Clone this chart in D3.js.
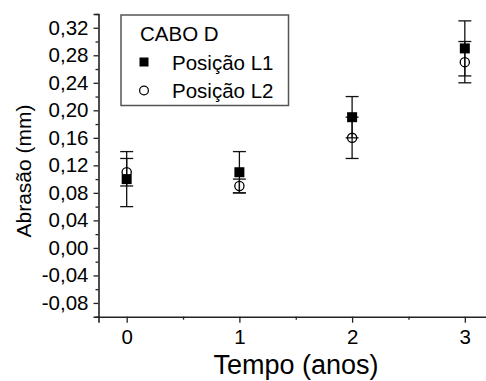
<!DOCTYPE html>
<html>
<head>
<meta charset="utf-8">
<script src="https://d3js.org/d3.v7.min.js"></script>
<style>
  body { margin: 0; background: #fff; }
  text { font-family: "Liberation Sans", Arial, sans-serif; fill: #000; }
</style>
</head>
<body>
<div id="chartDiv"></div>
<script>
  // data
  var anos = [0, 1, 2, 3];
  var L1 = [0.10, 0.11, 0.19, 0.29];
  var L1err = [0.04, 0.03, 0.03, 0.04];
  var L2 = [0.11, 0.09, 0.16, 0.27];
  var L2err = [0.02, 0.01, 0.03, 0.03];
  var yTicks = [-0.08, -0.04, 0, 0.04, 0.08, 0.12, 0.16, 0.20, 0.24, 0.28, 0.32];
  var xTicks = [0, 1, 2, 3];
  var legendTitle = "CABO D";
  var seriesNames = ["Posição L1", "Posição L2"];

  var W = 486, H = 381;
  var svg = d3.select("#chartDiv").append("svg")
    .attr("width", W).attr("height", H);

  var x = d3.scaleLinear().domain([-0.25, 3.25]).range([98.5, 493]);
  var y = d3.scaleLinear().domain([-0.10, 0.34]).range([316.7, 14]);

  var fmt = function(d) { return d3.format(".2f")(d).replace(".", ",").replace("−", "-"); };

  // y axis
  var yAxis = d3.axisLeft(y).tickValues(yTicks).tickSize(5).tickPadding(5).tickFormat(fmt);
  svg.append("g").attr("transform", "translate(" + x.range()[0] + ",0)").call(yAxis);
  var yMinor = d3.range(-0.10, 0.341, 0.04).map(function(d) { return +d.toFixed(2); });
  svg.append("g").attr("transform", "translate(" + x.range()[0] + ",0)")
    .call(d3.axisLeft(y).tickValues(yMinor).tickSize(3).tickFormat(""))
    .select(".domain").remove();

  // x axis
  var xAxis = d3.axisBottom(x).tickValues(xTicks).tickSize(6).tickPadding(7).tickFormat(d3.format("d"));
  svg.append("g").attr("transform", "translate(0," + y.range()[0] + ")").call(xAxis);
  svg.append("g").attr("transform", "translate(0," + y.range()[0] + ")")
    .call(d3.axisBottom(x).tickValues([0.5, 1.5, 2.5]).tickSize(3).tickFormat(""))
    .select(".domain").remove();

  svg.selectAll(".domain").attr("stroke", "#222").attr("stroke-width", 1.6);
  svg.selectAll(".tick line").attr("stroke", "#222").attr("stroke-width", 1.3);
  svg.selectAll(".tick text").style("font-size", "20.5px").attr("fill", "#000")
    .style("font-family", "'Liberation Sans', Arial, sans-serif");

  // axis titles
  svg.append("text")
    .attr("x", 296).attr("y", 374)
    .attr("text-anchor", "middle")
    .style("font-size", "27px")
    .text("Tempo (anos)");
  svg.append("text")
    .attr("transform", "translate(31,171) rotate(-90)")
    .attr("text-anchor", "middle")
    .style("font-size", "21px")
    .text("Abrasão (mm)");

  // error bars
  function errorBars(vals, errs) {
    var g = svg.append("g");
    anos.forEach(function(a, i) {
      var cx = x(a), lo = y(vals[i] - errs[i]), hi = y(vals[i] + errs[i]);
      g.append("line").attr("x1", cx).attr("x2", cx).attr("y1", lo).attr("y2", hi)
        .attr("stroke", "#111").attr("stroke-width", 1.3);
      [lo, hi].forEach(function(yy) {
        g.append("line").attr("x1", cx - 6.5).attr("x2", cx + 6.5).attr("y1", yy).attr("y2", yy)
          .attr("stroke", "#111").attr("stroke-width", 1.3);
      });
    });
  }
  errorBars(L2, L2err);
  errorBars(L1, L1err);

  // markers
  svg.append("g").selectAll("circle").data(L2).enter().append("circle")
    .attr("cx", function(d, i) { return x(anos[i]); })
    .attr("cy", function(d) { return y(d); })
    .attr("r", 4.6)
    .attr("fill", "none").attr("stroke", "#000").attr("stroke-width", 1.3);
  svg.append("g").selectAll("rect").data(L1).enter().append("rect")
    .attr("x", function(d, i) { return x(anos[i]) - 5; })
    .attr("y", function(d) { return y(d) - 5; })
    .attr("width", 10).attr("height", 10)
    .attr("fill", "#000");

  // legend
  var lg = svg.append("g");
  lg.append("rect").attr("x", 121).attr("y", 15).attr("width", 167.5).attr("height", 90.5)
    .attr("fill", "#fff").attr("stroke", "#555").attr("stroke-width", 1.5);
  lg.append("text").attr("x", 140).attr("y", 41).style("font-size", "20.5px").text(legendTitle);
  lg.append("rect").attr("x", 139.5).attr("y", 57.5).attr("width", 9).attr("height", 9).attr("fill", "#000");
  lg.append("circle").attr("cx", 144).attr("cy", 90.5).attr("r", 4.4)
    .attr("fill", "none").attr("stroke", "#000").attr("stroke-width", 1.2);
  lg.selectAll("text.s").data(seriesNames).enter().append("text")
    .attr("class", "s")
    .attr("x", 172).attr("y", function(d, i) { return 70 + i * 28; })
    .style("font-size", "20.5px")
    .text(function(d) { return d; });
</script>
</body>
</html>
